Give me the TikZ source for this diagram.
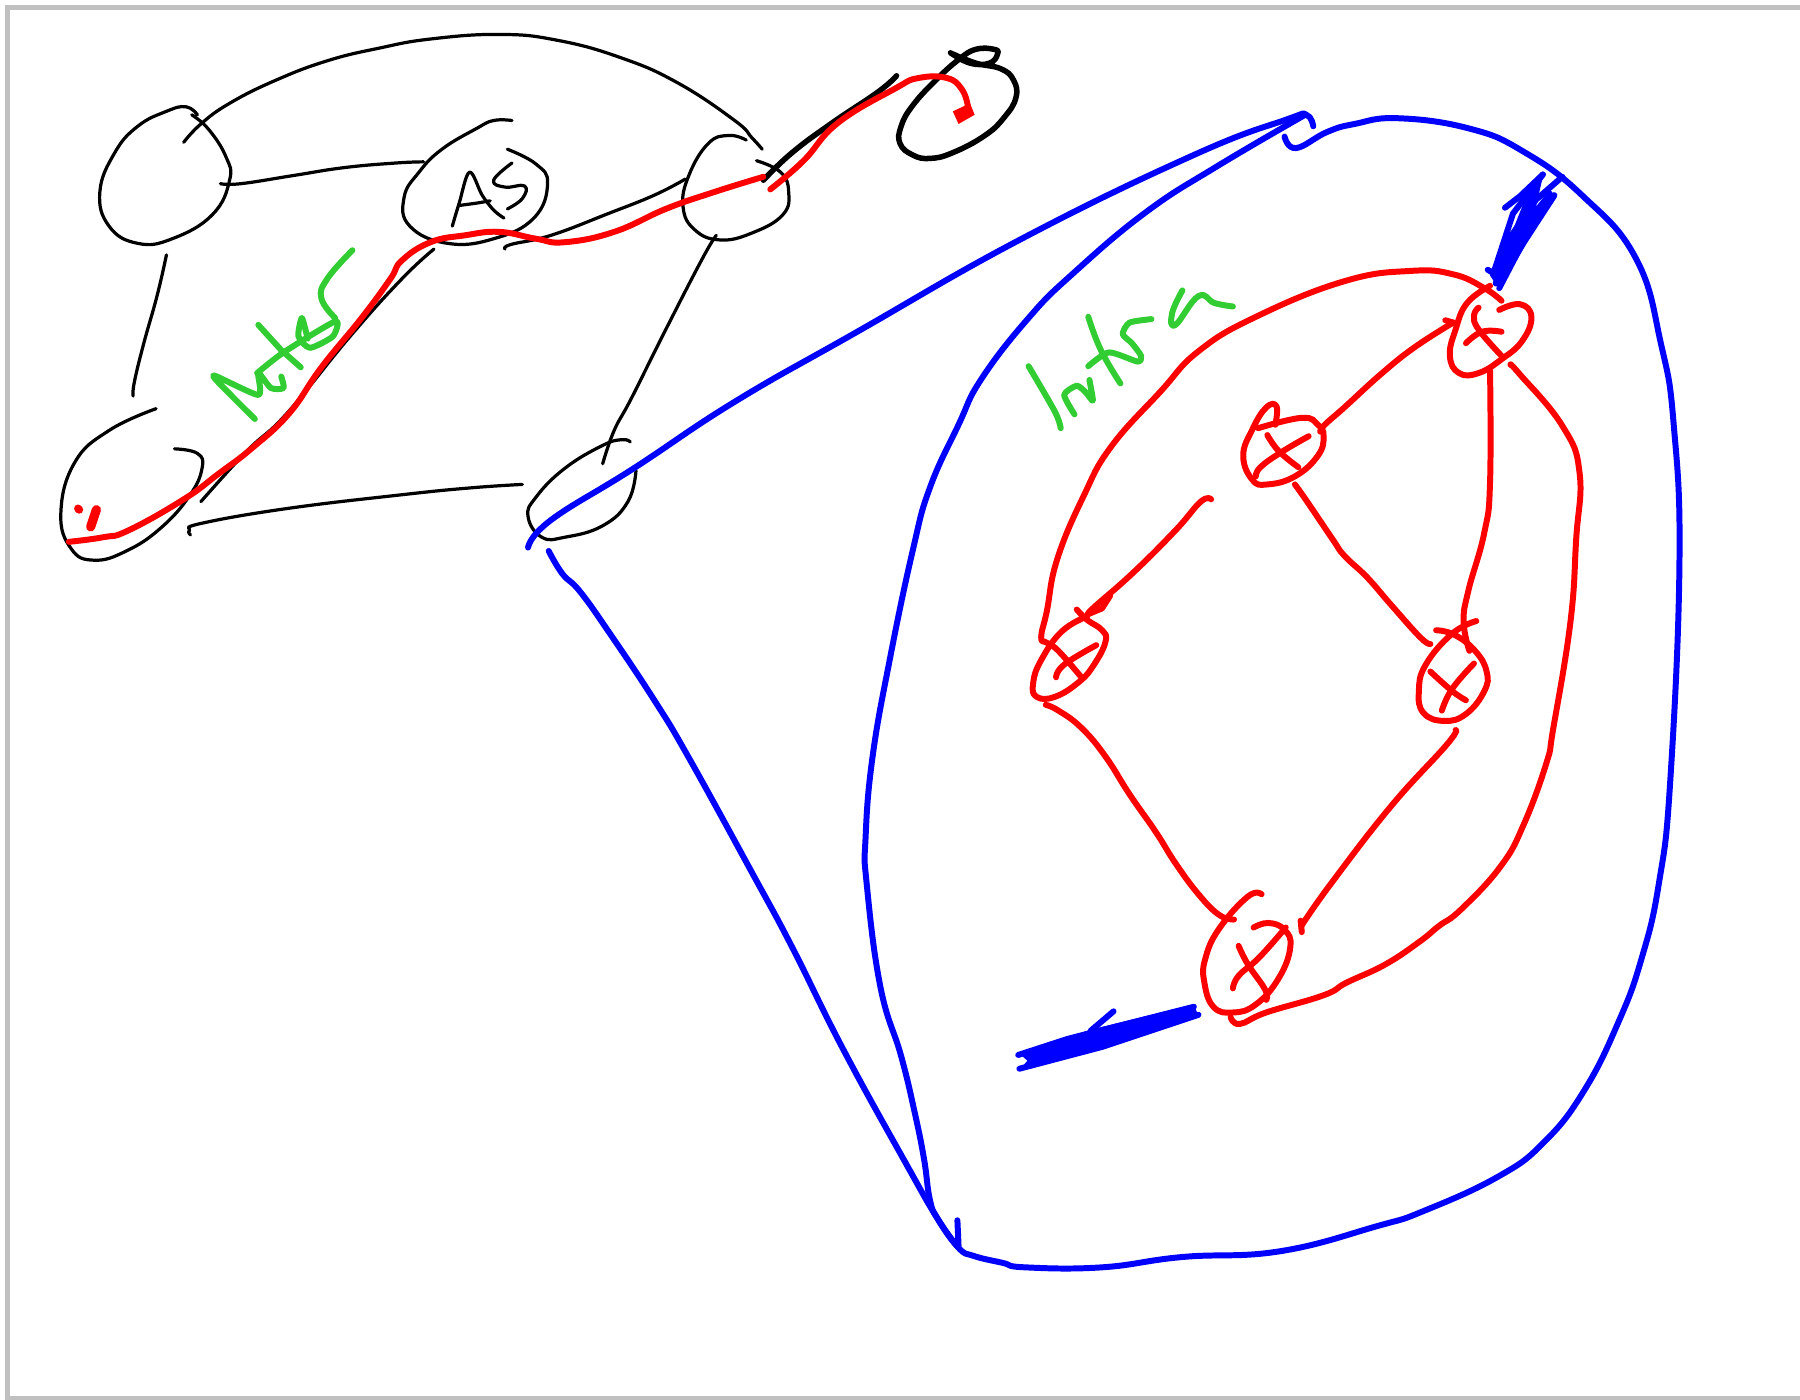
\documentclass[tikz,border=0pt]{standalone}
\definecolor{grn}{RGB}{50,205,50}
\tikzset{
  blk/.style={draw=black,line width=0.028cm,line cap=round,line join=round},
  blkthick/.style={draw=black,line width=0.048cm,line cap=round,line join=round},
  redp/.style={draw=red,line width=0.052cm,line cap=round,line join=round},
  bluep/.style={draw=blue,line width=0.052cm,line cap=round,line join=round},
  greenp/.style={draw=grn,line width=0.052cm,line cap=round,line join=round},
}
\begin{document}
\begin{tikzpicture}[x=0.01cm,y=-0.01cm]
\useasboundingbox (0,0) rectangle (1568,1219);
\fill[white] (0,0) rectangle (1568,1219);
\draw[draw={rgb,255:red,192;green,192;blue,192},line width=0.045cm] (6.5,6.5) rectangle (1572,1218);

% black
\draw[blk] plot[smooth,tension=0.75] coordinates {(172,100)(162,93)(145,97)(120,110)(100,133)(87,167)(95,197)(120,212)(150,208)(185,187)(200,157)(197,137)(182,113)(167,100)};
\draw[blk] plot[smooth,tension=0.75] coordinates {(160,124)(175,108)(200,90)(240,70)(285,53)(330,42)(375,34)(435,30)(485,35)(540,50)(590,72)(640,105)(655,120)(664,130)};
\draw[blk] plot[smooth,tension=0.75] coordinates {(192,160)(210,160)(255,153)(300,146)(345,142)(369,141)};
\draw[blk] plot[smooth,tension=0.75] coordinates {(446,105)(430,105)(415,112)(385,130)(365,150)(352,172)(357,197)(390,212)(430,208)(465,190)(477,160)(467,143)(442,130)};
\draw[blk] plot[smooth,tension=0.6] coordinates {(394,197)(400,177)(409,150)(420,170)(430,183)(439,190)};
\draw[blk] (400,179) -- (415,177) -- (427,175);
\draw[blk] plot[smooth,tension=0.75] coordinates {(446,142)(430,157)(440,163)(457,162)(455,173)(442,182)};
\draw[blk] plot[smooth,tension=0.75] coordinates {(440,217)(445,213)(480,205)(530,186)(570,170)(597,156)};
\draw[blk] plot[smooth,tension=0.75] coordinates {(650,122)(635,118)(617,125)(600,153)(595,180)(605,200)(627,209)(655,203)(682,187)(687,167)(680,150)(659,140)};
\draw[blk] plot[smooth,tension=0.75] coordinates {(624,205)(612,225)(580,287)(550,347)(535,375)(525,404)};
\draw[blk] plot[smooth,tension=0.75] coordinates {(549,385)(542,383)(525,388)(492,408)(467,433)(460,450)(472,468)(492,468)(525,458)(547,437)(554,410)};
\draw[blk] plot[smooth,tension=0.75] coordinates {(166,466)(165,462)(175,456)(250,443)(350,431)(410,425)(455,422)};
\draw[blk] plot[smooth,tension=0.75] coordinates {(136,356)(95,375)(65,403)(53,447)(62,478)(82,488)(110,480)(140,460)(165,432)(176,408)(172,395)(152,391)};
\draw[blk] plot[smooth,tension=0.75] coordinates {(145,222)(137,257)(125,300)(117,333)(116,345)};
\draw[blk] plot[smooth,tension=0.75] coordinates {(378,217)(350,243)(305,293)(250,360)(215,393)(175,437)};
\draw[blkthick] plot[smooth,tension=0.75] coordinates {(665,157)(690,133)(725,107)(765,80)(781,66)};
\draw[blkthick] plot[smooth,tension=0.75] coordinates {(828,46)(845,55)(862,55)(869,47)(866,43)(850,43)(835,52)(815,70)(795,92)(785,110)(784,125)(795,135)(810,138)(830,133)(858,118)(875,102)(885,85)(883,70)(872,60)(850,55)(830,47)};

% red, upper left
\draw[redp] plot[smooth,tension=0.75] coordinates {(60,472)(90,468)(112,462)(160,435)(190,413)(220,390)(252,360)(280,320)(315,277)(340,243)(350,227)(375,211)(405,205)(435,202)(467,208)(492,211)(535,202)(580,182)(620,168)(665,154)};
\draw[redp] plot[smooth,tension=0.75] coordinates {(671,165)(700,140)(730,107)(780,77)(800,68)(825,68)(838,78)(843,92)};
\fill[red] (830,97) -- (845,90) -- (849,100) -- (835,108) -- cycle;
\draw[redp,line width=0.07cm] (68,443) -- (69,444);
\draw[redp,line width=0.08cm] (84,444) -- (79,459);

% green
\draw[greenp] plot[smooth,tension=0.4] coordinates {(222,365)(200,343)(186,327)(225,344)(225,325)(236,338)(247,338)(245,328)};
\draw[greenp] (225,283) -- (245,305) -- (262,320);
\draw[greenp] plot[smooth,tension=0.4] coordinates {(224,325)(247,307)(292,280)(290,293)(270,303)(260,293)(263,277)(268,295)};
\draw[greenp] plot[smooth,tension=0.75] coordinates {(307,218)(285,243)(280,260)(292,277)};
\draw[greenp] plot[smooth,tension=0.75] coordinates {(896,319)(913,348)(921,363)(924,373)};
\draw[greenp] plot[smooth,tension=0.4] coordinates {(936,361)(927,344)(938,336)(946,342)(952,349)(949,331)};
\draw[greenp] plot[smooth,tension=0.75] coordinates {(948,276)(959,305)(976,334)};
\draw[greenp] plot[smooth,tension=0.4] coordinates {(948,319)(966,307)(991,315)(994,310)(986,299)(978,291)(984,281)(1003,278)};
\draw[greenp] plot[smooth,tension=0.75] coordinates {(1030,253)(1021,273)(1024,283)(1044,258)(1058,264)(1074,267)};

% blue
\draw[bluep] plot[smooth,tension=0.75] coordinates {(460,477)(480,453)(552,408)(640,350)(745,290)(890,208)(1040,135)(1121,104)(1138,100)(1144,110)};
\draw[bluep] plot[smooth,tension=0.75] coordinates {(1137,100)(1060,145)(998,185)(935,238)(896,277)(855,330)(835,370)(810,425)(795,480)(775,575)(760,660)(754,730)(755,770)(767,860)(785,920)(797,970)(805,1010)(810,1045)(817,1062)(835,1087)(848,1094)(873,1100)(893,1104)(960,1104)(1030,1095)(1115,1090)(1200,1068)(1240,1055)(1305,1025)(1345,995)(1380,950)(1410,890)(1430,835)(1445,770)(1455,680)(1463,490)(1458,370)(1447,300)(1425,225)(1378,170)(1327,132)(1280,112)(1218,103)(1180,108)(1156,115)(1129,129)(1119,119)};
\draw[bluep] plot[smooth,tension=0.75] coordinates {(478,480)(490,500)(505,515)(530,550)(570,610)(600,660)(655,760)(690,825)(735,915)(790,1015)(817,1062)(835,1087)};
\draw[bluep] (834,1063) -- (835,1085);
% blue scribble, top right
\fill[blue] (1298,240) -- (1316,205) -- (1330,170) -- (1344,154) -- (1338,180) -- (1350,165) -- (1356,172) -- (1330,212) -- (1306,252) -- cycle;
\draw[bluep] (1296,235) -- (1301,238) -- (1318,186) -- (1344,152);
\draw[bluep] (1311,181) -- (1324,171) -- (1344,152);
\draw[bluep] (1306,251) -- (1331,203) -- (1354,170);
\draw[bluep] (1361,154) -- (1338,174) -- (1314,209) -- (1303,247);
% blue scribble, bottom
\fill[blue] (887,917) -- (925,905) -- (950,897) -- (1040,875) -- (1044,885) -- (1000,900) -- (950,914) -- (888,932) -- (895,924) -- cycle;
\draw[bluep] (887,919) -- (930,905) -- (1040,877);
\draw[bluep] (888,931) -- (960,912) -- (1044,884);
\draw[bluep] (970,881) -- (950,898);

% red, right
\draw[redp] plot[smooth,tension=0.75] coordinates {(1308,262)(1293,251)(1266,239)(1229,236)(1171,245)(1094,276)(1044,306)(1011,341)(968,389)(944,432)(921,487)(912,532)(907,555)(912,560)(922,567)(942,590)};
\draw[redp] plot[smooth,tension=0.75] coordinates {(1298,249)(1278,264)(1268,287)(1263,310)(1271,325)(1288,325)(1308,313)(1326,297)(1334,276)(1324,265)(1306,270)};
\draw[redp] plot[smooth,tension=0.75] coordinates {(1288,268)(1284,275)(1288,287)(1308,310)};
\draw[redp] plot[smooth,tension=0.75] coordinates {(1277,299)(1291,289)(1308,289)};
\draw[redp] plot[smooth,tension=0.75] coordinates {(1298,323)(1298,420)(1293,464)(1279,515)(1275,542)(1280,567)};
\draw[redp] (1259,279) -- (1266,281);
\draw[redp] plot[smooth,tension=0.75] coordinates {(1266,281)(1233,302)(1204,325)(1171,355)(1154,370)(1150,376)};
\draw[redp] plot[smooth,tension=0.75] coordinates {(1111,370)(1112,354)(1103,355)(1091,374)(1083,397)(1091,418)(1104,422)(1128,415)(1148,397)(1153,380)(1148,370)(1134,364)(1096,373)};
\draw[redp] plot[smooth,tension=0.75] coordinates {(1104,379)(1114,393)(1131,407)};
\draw[redp] plot[smooth,tension=0.75] coordinates {(1140,380)(1116,394)(1098,407)(1094,415)};
\draw[redp] plot[smooth,tension=0.75] coordinates {(1055,435)(1046,437)(1024,462)(987,499)(953,529)(948,535)};
\draw[redp] (967,519) -- (960,530) -- (948,535);
\draw[redp] plot[smooth,tension=0.75] coordinates {(938,531)(947,540)(960,549)(963,559)(953,579)(940,594)(919,607)(903,607)(900,595)(907,575)(925,550)(947,537)};
\draw[redp] plot[smooth,tension=0.75] coordinates {(920,590)(927,579)(955,562)};
\draw[redp] plot[smooth,tension=0.75] coordinates {(911,614)(922,619)(942,634)(963,659)(984,692)(1007,725)(1024,752)(1044,779)(1062,797)(1075,801)};
\draw[redp] plot[smooth,tension=0.75] coordinates {(1099,779)(1087,781)(1062,809)(1050,835)(1049,855)(1057,877)(1074,882)(1094,875)(1114,852)(1124,825)(1119,810)(1105,804)(1092,808)};
\draw[redp] plot[smooth,tension=0.75] coordinates {(1120,808)(1097,834)(1079,850)(1074,861)};
\draw[redp] plot[smooth,tension=0.75] coordinates {(1079,824)(1087,840)(1102,862)(1103,871)};
\draw[redp] plot[smooth,tension=0.75] coordinates {(1268,636)(1260,649)(1212,702)(1160,769)(1134,806)};
\draw[redp] (1134,812) -- (1133,802);
\draw[redp] plot[smooth,tension=0.75] coordinates {(1316,318)(1323,325)(1361,371)(1376,412)(1373,470)(1368,542)(1353,635)(1347,665)(1327,719)(1307,755)(1273,792)(1253,807)(1237,820)(1207,840)(1173,856)(1153,867)(1103,882)(1080,892)(1072,886)};
\draw[redp] plot[smooth,tension=0.75] coordinates {(1128,422)(1138,436)(1161,470)(1171,484)(1191,503)(1211,526)(1237,555)(1246,561)};
\draw[redp] plot[smooth,tension=0.75] coordinates {(1251,549)(1267,553)(1285,567)(1295,585)(1293,602)(1277,622)(1258,628)(1240,621)(1236,602)(1242,579)(1265,552)(1286,541)};
\draw[redp] plot[smooth,tension=0.75] coordinates {(1246,585)(1265,602)(1277,610)};
\draw[redp] plot[smooth,tension=0.75] coordinates {(1284,578)(1265,600)(1256,619)};
\end{tikzpicture}
\end{document}
